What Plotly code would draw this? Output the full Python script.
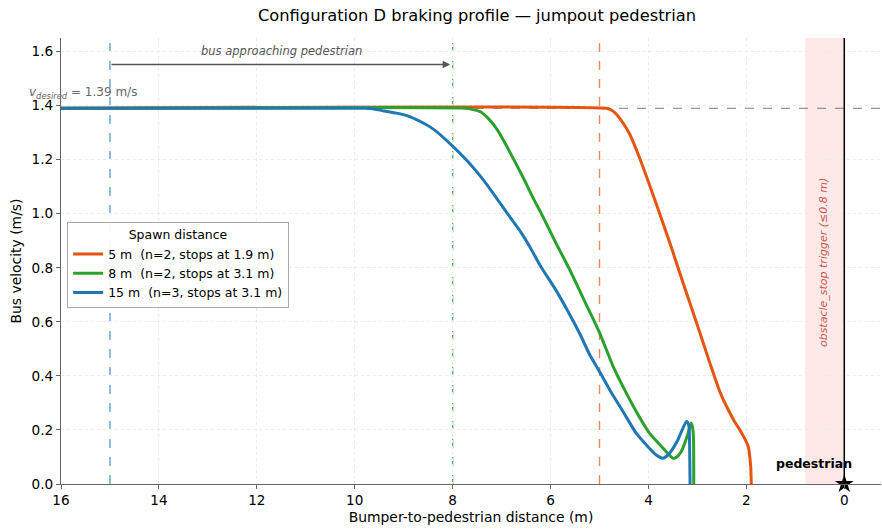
import plotly.graph_objects as go

# ---- data ----
x_5m = [16.0, 4.86, 4.75, 4.65, 4.50, 4.38, 4.18, 3.98, 3.77, 3.55, 3.35, 3.08, 2.96, 2.75,
        2.53, 2.26, 2.10, 1.96, 1.93, 1.91, 1.90]
v_5m = [1.39, 1.39, 1.383, 1.367, 1.33, 1.293, 1.206, 1.107, 1.0, 0.885, 0.775, 0.63, 0.565, 0.45,
        0.336, 0.237, 0.19, 0.138, 0.10, 0.06, 0.0]

x_8m = [16.0, 7.72, 7.60, 7.43, 7.25, 7.09, 6.92, 6.75, 6.55, 6.34, 6.20, 5.90, 5.59, 5.30,
        5.00, 4.72, 4.52, 4.25, 3.98, 3.70, 3.50, 3.42, 3.33, 3.19, 3.13, 3.10, 3.08, 3.075]
v_8m = [1.39, 1.39, 1.386, 1.377, 1.348, 1.311, 1.258, 1.20, 1.13, 1.052, 1.005, 0.895, 0.786, 0.675,
        0.56, 0.434, 0.36, 0.268, 0.188, 0.132, 0.095, 0.10, 0.12, 0.188, 0.225, 0.21, 0.17, 0.0]

x_15m = [16.0, 9.80, 9.60, 9.40, 9.15, 8.92, 8.65, 8.38, 8.00, 7.70, 7.43, 7.15, 6.88, 6.60,
         6.41, 6.20, 5.90, 5.66, 5.40, 5.20, 5.00, 4.79, 4.52, 4.25, 4.01, 3.84, 3.70, 3.57,
         3.40, 3.23, 3.20, 3.17, 3.16, 3.15]
v_15m = [1.39, 1.39, 1.387, 1.38, 1.372, 1.362, 1.34, 1.311, 1.25, 1.195, 1.138, 1.07, 1.0, 0.93,
         0.873, 0.805, 0.72, 0.644, 0.555, 0.478, 0.416, 0.348, 0.268, 0.188, 0.138, 0.107, 0.095, 0.114,
         0.163, 0.231, 0.228, 0.21, 0.15, 0.0]

series_names = ["5 m  (n=2, stops at 1.9 m)", "8 m  (n=2, stops at 3.1 m)", "15 m  (n=3, stops at 3.1 m)"]
series_colors = ["#e6550d", "#2ca02c", "#1f77b4"]
spawn_dist = [5, 8, 15]

v_desired = 1.39
trigger_dist = 0.8
x_ticks = [16, 14, 12, 10, 8, 6, 4, 2, 0]
y_ticks = [0.0, 0.2, 0.4, 0.6, 0.8, 1.0, 1.2, 1.4, 1.6]

FONT = "DejaVu Sans"

fig = go.Figure()

# pink trigger band
fig.add_shape(type="rect", xref="x", yref="paper", x0=trigger_dist, x1=0, y0=0, y1=1,
              fillcolor="rgba(255,0,0,0.09)", line_width=0, layer="below")
# desired speed line
fig.add_shape(type="line", xref="paper", yref="y", x0=0, x1=1, y0=v_desired, y1=v_desired,
              line=dict(color="rgba(90,90,90,0.8)", width=1, dash="dash"), layer="between")
# spawn distance lines
faint = ["rgba(230,85,13,0.7)", "rgba(44,170,44,0.8)", "rgba(31,119,180,0.7)"]
for d, c in zip(spawn_dist, faint):
    fig.add_shape(type="line", xref="x", yref="paper", x0=d, x1=d, y0=0, y1=1,
                  line=dict(color=c, width=1.4, dash="dash"), layer="between")
# pedestrian line
fig.add_shape(type="line", xref="x", yref="paper", x0=0, x1=0, y0=0, y1=1,
              line=dict(color="black", width=1.5))

for xs, vs, name, col in zip([x_5m, x_8m, x_15m], [v_5m, v_8m, v_15m], series_names, series_colors):
    fig.add_trace(go.Scatter(x=xs, y=vs, mode="lines", name=name,
                             line=dict(color=col, width=3, shape="spline", smoothing=0.5)))

# pedestrian star
fig.add_trace(go.Scatter(x=[0], y=[0], mode="markers", showlegend=False,
                         marker=dict(symbol="star", size=14, color="black"), cliponaxis=False))

fig.add_annotation(x=0.62, y=0.077, xref="x", yref="y", text="<b>pedestrian</b>", showarrow=False,
                   font=dict(family=FONT, size=12.5, color="black"))

fig.add_annotation(x=0.42, y=0.82, xref="x", yref="y", text="<i>obstacle_stop trigger (≤0.8 m)</i>",
                   textangle=-90, showarrow=False,
                   font=dict(family=FONT, size=11, color="rgba(192,57,43,0.85)"))

fig.add_annotation(x=8.05, y=1.552, ax=15, ay=1.552, xref="x", yref="y", axref="x", ayref="y",
                   text="", showarrow=True, arrowhead=2, arrowsize=1, arrowwidth=1.5,
                   arrowcolor="#555555")
fig.add_annotation(x=11.5, y=1.603, xref="x", yref="y", text="<i>bus approaching pedestrian</i>",
                   showarrow=False, font=dict(family=FONT, size=11.5, color="#555555"))

fig.add_annotation(x=(27 - 61) / 820, y=1.41, xref="paper", yref="y", xanchor="left", yanchor="bottom",
                   text="<i>v</i><sub><i>desired</i></sub> = 1.39 m/s", showarrow=False,
                   font=dict(family=FONT, size=12, color="#666666"))

fig.update_layout(
    width=882, height=530,
    margin=dict(l=61, r=1, t=38, b=46),
    paper_bgcolor="white", plot_bgcolor="white",
    font=dict(family=FONT, size=13.6, color="black"),
    title=dict(text="Configuration D braking profile — jumpout pedestrian",
               x=(477 - 61) / 820, xref="paper", xanchor="center",
               y=1 - 15 / 530, yanchor="middle", yref="container",
               font=dict(family=FONT, size=16.3, color="black")),
    legend=dict(x=0.0075, y=0.587, xanchor="left", yanchor="top",
                title=dict(text="Spawn distance", side="top center", font=dict(family=FONT, size=12.5)),
                font=dict(family=FONT, size=12.5), bgcolor="rgba(255,255,255,0.9)",
                bordercolor="#aaaaaa", borderwidth=1, tracegroupgap=2, itemwidth=30),
    showlegend=True,
)

fig.update_xaxes(range=[16, -0.75], tickvals=x_ticks, ticktext=[str(t) for t in x_ticks],
                 showline=True, linecolor="#666666", linewidth=1.2, mirror=False,
                 ticks="outside", ticklen=4, tickcolor="#666666",
                 showgrid=True, gridcolor="#ebebeb", griddash="dot", gridwidth=0.8, zeroline=False,
                 tickfont=dict(family=FONT, size=13.6),
                 title=dict(text="Bumper-to-pedestrian distance (m)", font=dict(family=FONT, size=13.9), standoff=4))
fig.update_yaxes(range=[0, 1.65], tickvals=y_ticks, ticktext=[f"{t:.1f}" for t in y_ticks],
                 showline=True, linecolor="#666666", linewidth=1.2, mirror=False,
                 ticks="outside", ticklen=4, tickcolor="#666666",
                 showgrid=True, gridcolor="#ebebeb", griddash="dot", gridwidth=0.8, zeroline=False,
                 tickfont=dict(family=FONT, size=13.6),
                 title=dict(text="Bus velocity (m/s)", font=dict(family=FONT, size=13.9), standoff=6))

fig.write_html("out.html")
